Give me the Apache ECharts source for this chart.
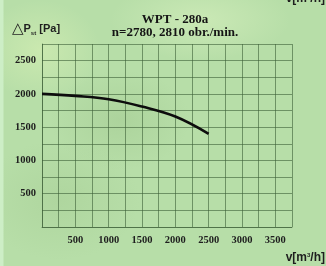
<!DOCTYPE html>
<html>
<head>
<meta charset="utf-8">
<script src="https://cdn.jsdelivr.net/npm/echarts@6/dist/echarts.min.js"></script>
<style>
  html, body { margin: 0; padding: 0; }
  body {
    width: 326px; height: 266px; overflow: hidden;
    background:
      linear-gradient(90deg, #cdeec6 0, #cdeec6 3px, rgba(0,0,0,0) 4px),
      radial-gradient(ellipse 70px 50px at 120px 120px, rgba(140,180,120,0.25), rgba(0,0,0,0)),
      radial-gradient(ellipse 80px 60px at 60px 200px, rgba(150,190,130,0.25), rgba(0,0,0,0)),
      radial-gradient(ellipse 90px 40px at 200px 20px, rgba(215,240,190,0.6), rgba(0,0,0,0)),
      radial-gradient(ellipse 60px 50px at 40px 50px, rgba(215,240,180,0.6), rgba(0,0,0,0)),
      #b7dea8;
  }
  #chart { width: 326px; height: 266px; }
</style>
</head>
<body>
<div id="chart"></div>
<script>
// Q [m3/h] vs static pressure [Pa]
const flow = [0, 500, 1000, 1500, 2000, 2500]
const pressure = [2000, 1970, 1920, 1810, 1660, 1400]

const xTicks = [500, 1000, 1500, 2000, 2500, 3000, 3500]
const yTicks = [500, 1000, 1500, 2000, 2500]

const serif = '"Liberation Serif", "DejaVu Serif", serif'
const sans = '"Liberation Sans", "DejaVu Sans", sans-serif'
const gridLine = { lineStyle: { color: 'rgba(60,95,55,0.6)', width: 1 } }

const unitText = {
  text: '{v|v[m}{e|3}{v|/h]}',
  rich: {
    v: { fontFamily: sans, fontSize: 12, fontWeight: 'bold', fill: '#1e1e1e' },
    e: { fontFamily: sans, fontSize: 6, fontWeight: 'bold', fill: '#1e1e1e', verticalAlign: 'top', padding: [0, 0, 6, 0] }
  }
}

const chart = echarts.init(document.getElementById('chart'))

chart.setOption({
  backgroundColor: 'transparent',
  animation: false,
  title: {
    text: 'WPT - 280a\nn=2780, 2810 obr./min.',
    left: 170,
    textAlign: 'center',
    top: 8,
    textStyle: { fontFamily: serif, fontWeight: 'bold', fontSize: 13, color: '#151515', lineHeight: 13 }
  },
  grid: { left: 42, top: 44, width: 250, height: 183 },
  xAxis: {
    type: 'value',
    min: 0, max: 3750, interval: 250,
    axisLine: { show: true, ...gridLine },
    axisTick: { show: false },
    splitLine: { show: true, ...gridLine },
    axisLabel: {
      margin: 8,
      fontFamily: serif, fontWeight: 'bold', fontSize: 10.5, color: '#1e1e1e',
      formatter: v => (xTicks.includes(v) ? String(v) : '')
    }
  },
  yAxis: {
    type: 'value',
    min: 0, max: 2750, interval: 250,
    axisLine: { show: true, ...gridLine },
    axisTick: { show: false },
    splitLine: { show: true, ...gridLine },
    axisLabel: {
      margin: 6,
      fontFamily: serif, fontWeight: 'bold', fontSize: 10.5, color: '#1e1e1e',
      formatter: v => (yTicks.includes(v) ? String(v) : '')
    }
  },
  graphic: [
    {
      type: 'text', left: 12, top: 21,
      style: {
        text: '{t|△}{p|P}{s|st}{u| [Pa]}',
        rich: {
          t: { fontFamily: sans, fontSize: 15, fill: '#1e1e1e' },
          p: { fontFamily: sans, fontSize: 11, fontWeight: 'bold', fill: '#1e1e1e' },
          s: { fontFamily: sans, fontSize: 6, fontWeight: 'bold', fill: '#1e1e1e', verticalAlign: 'bottom', padding: [6, 0, 0, 0] },
          u: { fontFamily: sans, fontSize: 11, fontWeight: 'bold', fill: '#1e1e1e' }
        }
      }
    },
    { type: 'text', right: 1, top: 252, style: unitText },
    { type: 'text', right: 1, top: -7, style: unitText }
  ],
  series: [{
    type: 'line',
    data: flow.map((q, i) => [q, pressure[i]]),
    smooth: 0.4,
    showSymbol: false,
    lineStyle: { color: '#0d0d0d', width: 2.6 }
  }]
})
</script>
</body>
</html>
